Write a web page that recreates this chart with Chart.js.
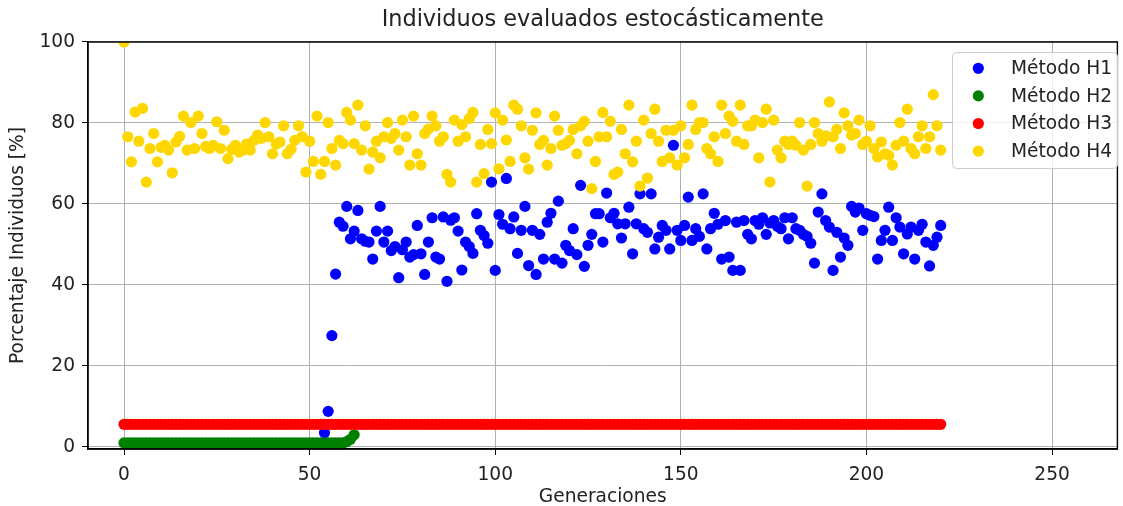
<!DOCTYPE html>
<html><head><meta charset="utf-8">
<script src="https://cdn.jsdelivr.net/npm/chart.js@4.4.1/dist/chart.umd.min.js"></script>
<style>html,body{margin:0;padding:0;background:#fff;overflow:hidden}canvas{display:block}</style>
</head><body>
<canvas id="c" width="1123" height="506"></canvas>
<script>
const chartTitle = "Individuos evaluados estocásticamente";
const xLabel = "Generaciones";
const yLabel = "Porcentaje Individuos [%]";
const seriesNames = ["Método H1", "Método H2", "Método H3", "Método H4"];
const xTicks = [0, 50, 100, 150, 200, 250];
const yTicks = [0, 20, 40, 60, 80, 100];

// Método H1: generations 54..220
const h1Start = 54;
const h1 = [
  3.5, 8.8, 27.5, 42.7, 55.5, 54.5,
  59.4, 51.4, 53.3, 58.4, 51.4, 50.8, 50.6, 46.4, 53.3, 59.4,
  50.6, 53.3, 48.5, 49.5, 41.8, 48.7, 50.6, 46.9, 47.5, 54.7,
  47.7, 42.6, 50.6, 56.6, 46.9, 46.4, 56.8, 40.9, 56.0, 56.6,
  53.3, 43.7, 50.6, 49.5, 47.8, 57.6, 53.5, 52.2, 50.3, 65.4,
  43.6, 57.4, 55.0, 66.3, 53.9, 56.8, 47.8, 53.5, 59.4, 44.8,
  53.5, 42.6, 52.5, 46.4, 55.5, 57.7, 46.4, 60.7, 45.4, 49.8,
  48.5, 53.9, 47.5, 64.6, 44.6, 49.8, 52.5, 57.6, 57.6, 50.6,
  62.7, 56.6, 57.7, 55.1, 51.6, 55.1, 59.2, 47.7, 55.1, 62.5,
  53.9, 53.0, 62.5, 48.9, 51.8, 54.7, 53.5, 48.9, 74.5, 53.5,
  51.0, 54.7, 61.7, 51.0, 53.9, 52.0, 62.5, 48.9, 53.9, 57.7,
  55.0, 46.4, 55.9, 46.9, 43.6, 55.5, 43.6, 55.9, 52.5, 51.4,
  55.9, 55.0, 56.6, 52.5, 55.3, 55.9, 54.5, 53.9, 56.6, 51.4,
  56.6, 53.9, 53.5, 52.5, 52.0, 50.3, 45.4, 58.0, 62.5, 55.9,
  54.3, 43.6, 53.0, 46.9, 51.6, 49.8, 59.4, 58.0, 59.0, 53.5,
  57.6, 57.2, 56.9, 46.4, 51.0, 53.5, 59.2, 51.0, 56.6, 54.3,
  47.7, 52.6, 54.3, 46.4, 53.5, 55.0, 50.6, 44.7, 49.8, 51.8,
  54.7
];

// Método H2: generations 0..62
const h2Start = 0;
const h2 = [
  1.0, 1.0, 1.0, 1.0, 1.0, 1.0, 1.0, 1.0, 1.0, 1.0,
  1.0, 1.0, 1.0, 1.0, 1.0, 1.0, 1.0, 1.0, 1.0, 1.0,
  1.0, 1.0, 1.0, 1.0, 1.0, 1.0, 1.0, 1.0, 1.0, 1.0,
  1.0, 1.0, 1.0, 1.0, 1.0, 1.0, 1.0, 1.0, 1.0, 1.0,
  1.0, 1.0, 1.0, 1.0, 1.0, 1.0, 1.0, 1.0, 1.0, 1.0,
  1.0, 1.0, 1.0, 1.0, 1.0, 1.0, 1.0, 1.0, 1.0, 1.0,
  1.3, 1.9, 3.0
];

// Método H3: generations 0..220
const h3Start = 0;
const h3 = [
  5.6, 5.6, 5.6, 5.6, 5.6, 5.6, 5.6, 5.6, 5.6, 5.6,
  5.6, 5.6, 5.6, 5.6, 5.6, 5.6, 5.6, 5.6, 5.6, 5.6,
  5.6, 5.6, 5.6, 5.6, 5.6, 5.6, 5.6, 5.6, 5.6, 5.6,
  5.6, 5.6, 5.6, 5.6, 5.6, 5.6, 5.6, 5.6, 5.6, 5.6,
  5.6, 5.6, 5.6, 5.6, 5.6, 5.6, 5.6, 5.6, 5.6, 5.6,
  5.6, 5.6, 5.6, 5.6, 5.6, 5.6, 5.6, 5.6, 5.6, 5.6,
  5.6, 5.6, 5.6, 5.6, 5.6, 5.6, 5.6, 5.6, 5.6, 5.6,
  5.6, 5.6, 5.6, 5.6, 5.6, 5.6, 5.6, 5.6, 5.6, 5.6,
  5.6, 5.6, 5.6, 5.6, 5.6, 5.6, 5.6, 5.6, 5.6, 5.6,
  5.6, 5.6, 5.6, 5.6, 5.6, 5.6, 5.6, 5.6, 5.6, 5.6,
  5.6, 5.6, 5.6, 5.6, 5.6, 5.6, 5.6, 5.6, 5.6, 5.6,
  5.6, 5.6, 5.6, 5.6, 5.6, 5.6, 5.6, 5.6, 5.6, 5.6,
  5.6, 5.6, 5.6, 5.6, 5.6, 5.6, 5.6, 5.6, 5.6, 5.6,
  5.6, 5.6, 5.6, 5.6, 5.6, 5.6, 5.6, 5.6, 5.6, 5.6,
  5.6, 5.6, 5.6, 5.6, 5.6, 5.6, 5.6, 5.6, 5.6, 5.6,
  5.6, 5.6, 5.6, 5.6, 5.6, 5.6, 5.6, 5.6, 5.6, 5.6,
  5.6, 5.6, 5.6, 5.6, 5.6, 5.6, 5.6, 5.6, 5.6, 5.6,
  5.6, 5.6, 5.6, 5.6, 5.6, 5.6, 5.6, 5.6, 5.6, 5.6,
  5.6, 5.6, 5.6, 5.6, 5.6, 5.6, 5.6, 5.6, 5.6, 5.6,
  5.6, 5.6, 5.6, 5.6, 5.6, 5.6, 5.6, 5.6, 5.6, 5.6,
  5.6, 5.6, 5.6, 5.6, 5.6, 5.6, 5.6, 5.6, 5.6, 5.6,
  5.6, 5.6, 5.6, 5.6, 5.6, 5.6, 5.6, 5.6, 5.6, 5.6,
  5.6
];

// Método H4: generations 0..220
const h4Start = 0;
const h4 = [
  100, 76.6, 70.4, 82.7, 75.5, 83.6, 65.4, 73.7, 77.4, 70.4,
  74.0, 74.5, 73.3, 67.7, 75.3, 76.7, 81.7, 73.3, 80.1, 73.7,
  81.7, 77.4, 74.2, 73.7, 74.5, 80.3, 73.7, 78.2, 71.2, 73.5,
  74.5, 72.8, 73.3, 74.8, 73.3, 75.7, 77.0, 76.2, 80.1, 76.6,
  72.4, 74.8, 75.3, 79.3, 72.4, 73.5, 75.7, 79.3, 76.6, 67.9,
  75.5, 70.5, 81.7, 67.3, 70.5, 80.1, 73.7, 69.6, 75.7, 74.9,
  82.6, 80.7, 74.9, 84.4, 73.3, 79.3, 68.6, 72.8, 75.5, 71.4,
  76.6, 80.1, 76.2, 77.4, 73.3, 80.7, 76.6, 69.6, 81.7, 72.4,
  69.6, 77.4, 78.5, 81.7, 79.3, 75.5, 76.6, 67.3, 65.4, 80.7,
  75.5, 79.6, 76.6, 81.1, 82.6, 65.4, 74.7, 67.5, 78.4, 74.9,
  82.5, 68.7, 80.7, 75.8, 70.5, 84.4, 83.4, 79.3, 71.4, 68.6,
  78.2, 82.5, 74.7, 75.7, 69.6, 73.7, 81.7, 78.2, 74.5, 74.9,
  75.7, 78.4, 72.4, 79.3, 80.4, 75.5, 63.8, 70.5, 76.6, 82.6,
  76.6, 80.4, 67.3, 67.9, 78.4, 72.4, 84.4, 70.4, 75.5, 64.4,
  80.7, 66.4, 77.4, 83.4, 75.5, 70.5, 78.2, 71.4, 78.2, 69.6,
  79.3, 71.4, 74.7, 84.4, 78.4, 80.1, 80.1, 73.7, 72.4, 76.6,
  70.5, 84.4, 77.4, 81.7, 80.4, 75.5, 84.4, 74.7, 79.3, 79.3,
  80.7, 71.4, 80.1, 83.4, 65.4, 80.7, 73.3, 71.4, 75.5, 74.7,
  75.5, 74.5, 80.1, 73.3, 64.4, 74.7, 80.1, 77.4, 75.5, 76.8,
  85.2, 76.6, 78.4, 73.7, 82.5, 79.3, 77.0, 77.4, 80.7, 74.7,
  75.5, 79.3, 73.7, 71.6, 75.3, 72.4, 72.0, 69.6, 74.5, 80.1,
  75.5, 83.4, 73.7, 72.4, 76.6, 79.3, 73.7, 76.6, 87.0, 79.3,
  73.3
];

const seriesColors = ['#0000ff', '#008000', '#ff0000', '#ffd700'];
const FONT = "'DejaVu Sans', sans-serif";
const TEXT = '#222222';
const FS = 18.6;

function toPoints(start, arr) { return arr.map((v, i) => ({ x: start + i, y: v })); }

const seriesList = [[h1Start, h1], [h2Start, h2], [h3Start, h3], [h4Start, h4]];
const datasets = seriesList.map(([s, a], k) => ({
  label: seriesNames[k],
  data: toPoints(s, a),
  backgroundColor: seriesColors[k],
  borderColor: seriesColors[k],
  borderWidth: 0,
  pointRadius: 5.6,
  pointHoverRadius: 5.6,
  showLine: false,
  order: 4 - k,
  clip: 0
}));

const framePlugin = {
  id: 'frame',
  afterDatasetsDraw(chart) {
    const { ctx, chartArea: a } = chart;
    ctx.save();
    ctx.strokeStyle = '#000';
    ctx.lineWidth = 1.4;
    ctx.beginPath();
    ctx.rect(a.left, a.top, a.right - a.left, a.bottom - a.top);
    ctx.stroke();
    ctx.restore();
  }
};

const legendPlugin = {
  id: 'mplLegend',
  afterDraw(chart) {
    const ctx = chart.ctx;
    const bx = 952, by = 52, bw = 165, bh = 116;
    ctx.save();
    ctx.beginPath();
    ctx.roundRect(bx + 0.5, by + 0.5, bw, bh, 4);
    ctx.fillStyle = 'rgba(255,255,255,0.8)';
    ctx.fill();
    ctx.strokeStyle = '#cccccc';
    ctx.lineWidth = 1;
    ctx.stroke();
    ctx.font = FS + "px 'DejaVu Sans'";
    ctx.textBaseline = 'middle';
    ctx.textAlign = 'left';
    chart.data.datasets.forEach((ds, i) => {
      const y = 68.3 + i * 27.6;
      ctx.beginPath();
      ctx.arc(978.3, y, 5.6, 0, Math.PI * 2);
      ctx.fillStyle = ds.backgroundColor;
      ctx.fill();
      ctx.fillStyle = TEXT;
      ctx.fillText(ds.label, 1011, y + 1);
    });
    ctx.restore();
  }
};

new Chart(document.getElementById('c'), {
  type: 'scatter',
  data: { datasets },
  plugins: [framePlugin, legendPlugin],
  options: {
    responsive: false,
    animation: false,
    devicePixelRatio: 1,
    layout: { padding: { left: 0, right: 1, top: 0, bottom: 0 } },
    plugins: {
      legend: { display: false },
      tooltip: { enabled: false },
      title: {
        display: true, text: chartTitle, color: TEXT, fullSize: false,
        font: { family: FONT, size: 22.4, weight: 'normal', lineHeight: 1.2 },
        padding: { top: 7, bottom: 8.1 }
      }
    },
    scales: {
      x: {
        type: 'linear', min: -9.7, max: 267.6,
        afterBuildTicks: s => { s.ticks = xTicks.map(v => ({ value: v })); },
        afterFit: s => { s.height = 57; },
        grid: { color: '#b0b0b0', lineWidth: 1, tickLength: 6, tickColor: '#000', drawTicks: true },
        border: { display: true, color: '#000', width: 1.4 },
        ticks: { color: TEXT, font: { family: FONT, size: FS }, padding: 9, maxRotation: 0, autoSkip: false },
        title: { display: true, text: xLabel, color: TEXT, font: { family: FONT, size: FS, lineHeight: 1 }, padding: { top: 0, bottom: 0 } }
      },
      y: {
        type: 'linear', min: -0.5, max: 100,
        afterBuildTicks: s => { s.ticks = yTicks.map(v => ({ value: v })); },
        afterFit: s => { s.width = 88; },
        grid: { color: '#b0b0b0', lineWidth: 1, tickLength: 6, tickColor: '#000', drawTicks: true },
        border: { display: true, color: '#000', width: 1.4 },
        ticks: { color: TEXT, font: { family: FONT, size: FS }, padding: 7, autoSkip: false },
        title: { display: true, text: yLabel, color: TEXT, font: { family: FONT, size: FS, lineHeight: 1 }, padding: { top: 9, bottom: 0 } }
      }
    }
  }
});
</script>
</body></html>
